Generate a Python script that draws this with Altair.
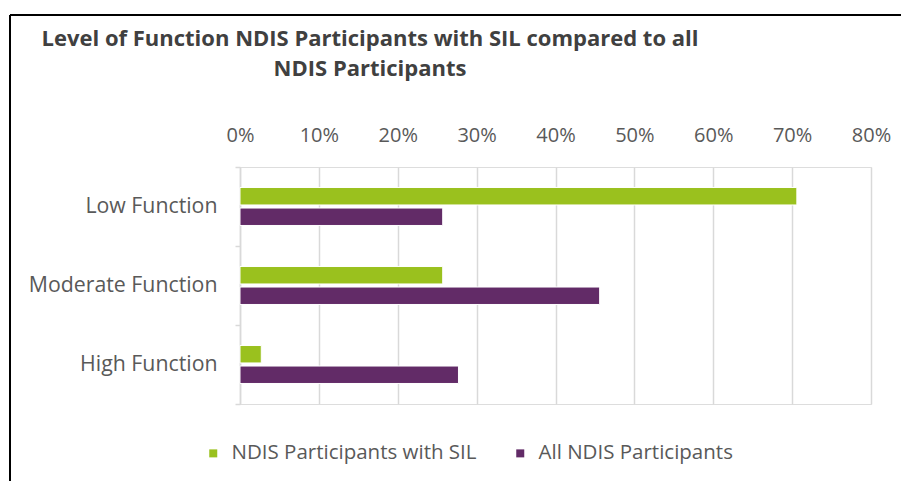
import altair as alt
import pandas as pd

categories = ["Low Function", "Moderate Function", "High Function"]
series = ["NDIS Participants with SIL", "All NDIS Participants"]
sil_values = [0.706, 0.257, 0.027]
all_values = [0.257, 0.456, 0.277]
tick_values = [0, 0.1, 0.2, 0.3, 0.4, 0.5, 0.6, 0.7, 0.8]
colors = ["#9AC11E", "#622B67"]
title_lines = ["Level of Function NDIS Participants  with SIL compared to all", "NDIS Participants"]

rows = []
for c, a, b in zip(categories, sil_values, all_values):
    rows.append({"category": c, "series": series[0], "value": a})
    rows.append({"category": c, "series": series[1], "value": b})
df = pd.DataFrame(rows)

FONT = "Open Sans"
TFONT = "Liberation Sans Narrow, Open Sans"
GRAY = "#595959"

bars = alt.Chart(df).mark_bar(stroke="white", strokeWidth=1).encode(
    x=alt.X("value:Q",
            scale=alt.Scale(domain=[0, 0.8], nice=False),
            axis=alt.Axis(orient="top", values=tick_values, format=".0%", title=None,
                          domain=False, ticks=False, labelPadding=22, labelFlush=False,
                          labelFont=FONT, labelFontSize=20, labelColor=GRAY,
                          grid=True, gridColor="#d9d9d9", gridWidth=1.5)),
    y=alt.Y("category:N", sort=categories,
            scale=alt.Scale(paddingInner=0, paddingOuter=0),
            axis=alt.Axis(title=None, tickBand="extent", domainColor="#d9d9d9", domainWidth=1.5,
                          tickColor="#d9d9d9", tickWidth=1.5, tickSize=5, labelPadding=18,
                          labelFont=FONT, labelFontSize=21.3, labelColor=GRAY, grid=False,
                          labelLimit=0)),
    yOffset=alt.YOffset("series:N", sort=series,
                        scale=alt.Scale(paddingInner=0.15, paddingOuter=1)),
    color=alt.Color("series:N", sort=series,
                    scale=alt.Scale(domain=series, range=colors),
                    legend=alt.Legend(title=None, orient="none", direction="horizontal",
                                      legendX=-37, legendY=276,
                                      symbolType="square", symbolSize=64,
                                      symbolStrokeWidth=0, labelLimit=0,
                                      labelFont=FONT, labelFontSize=20.5, labelColor=GRAY,
                                      labelOffset=8, columnPadding=33)),
)

border_df = pd.DataFrame({"k": [0]})
top_border = alt.Chart(border_df).mark_rule(color="black", strokeWidth=2).encode(
    x=alt.value(-230), x2=alt.value(700), y=alt.value(-152))
left_border = alt.Chart(border_df).mark_rule(color="black", strokeWidth=2).encode(
    x=alt.value(-230), y=alt.value(-152), y2=alt.value(340))

chart = alt.layer(bars, top_border, left_border).properties(
    width=631, height=237,
    padding={"left": 232, "top": 159, "right": 30, "bottom": 77},
    autosize=alt.AutoSizeParams(type="none"),
    title=alt.TitleParams(text=title_lines, anchor="start", align="center", dx=130,
                          frame="group", offset=-67, lineHeight=30, font=TFONT, fontSize=22,
                          fontWeight="bold", color="#404040"),
).configure_view(stroke=None).configure(background="white")

chart.save("out.html", embed_options={"renderer": "svg", "actions": False})
